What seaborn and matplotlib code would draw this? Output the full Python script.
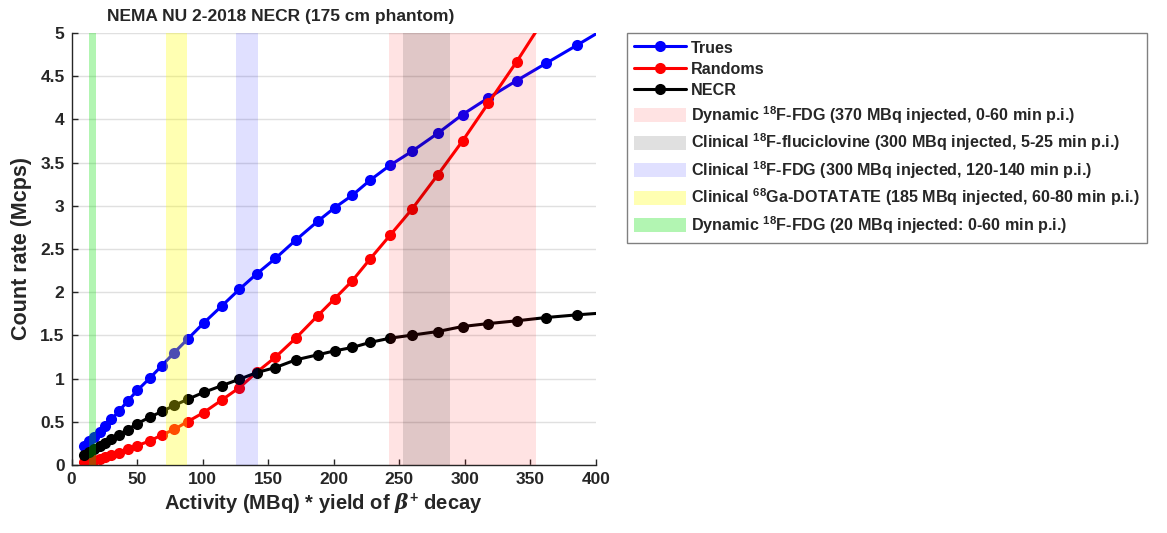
import numpy as np
import pandas as pd
import matplotlib
matplotlib.use("Agg")
import matplotlib.pyplot as plt
import seaborn as sns
from matplotlib.patches import Patch
from matplotlib.lines import Line2D

# ---- data ----
activity = [9.9, 13.7, 17.5, 21.6, 25.9, 30.5, 36.0, 42.8, 50.3, 59.6, 69.0, 78.4,
            88.5, 100.7, 114.7, 128.1, 141.3, 155.5, 171.0, 187.7, 200.7, 214.0,
            228.0, 243.0, 259.6, 279.4, 298.2, 318.0, 339.6, 362.0, 385.6, 410.0]
trues = [0.22, 0.278, 0.328, 0.386, 0.452, 0.53, 0.62, 0.74, 0.865, 1.004, 1.151, 1.302,
         1.456, 1.642, 1.842, 2.035, 2.213, 2.391, 2.603, 2.82, 2.978, 3.12,
         3.30, 3.47, 3.63, 3.84, 4.056, 4.25, 4.45, 4.65, 4.86, 5.08]
randoms = [0.03, 0.045, 0.06, 0.075, 0.095, 0.115, 0.14, 0.18, 0.225, 0.278, 0.348, 0.413,
           0.502, 0.606, 0.753, 0.896, 1.074, 1.248, 1.468, 1.727, 1.925, 2.13,
           2.39, 2.66, 2.96, 3.36, 3.75, 4.19, 4.67, 5.2, 5.8, 6.4]
necr = [0.12, 0.155, 0.19, 0.225, 0.26, 0.30, 0.35, 0.41, 0.48, 0.553, 0.62, 0.69,
        0.76, 0.84, 0.919, 0.993, 1.07, 1.128, 1.217, 1.275, 1.321, 1.36,
        1.42, 1.468, 1.503, 1.545, 1.603, 1.637, 1.669, 1.707, 1.738, 1.765]

series_names = ["Trues", "Randoms", "NECR"]
series_colors = ["#0000FF", "#FF0000", "#000000"]

band_labels = [r"Dynamic $^{\mathbf{18}}$F-FDG (370 MBq injected, 0-60 min p.i.)",
               r"Clinical $^{\mathbf{18}}$F-fluciclovine (300 MBq injected, 5-25 min p.i.)",
               r"Clinical $^{\mathbf{18}}$F-FDG (300 MBq injected, 120-140 min p.i.)",
               r"Clinical $^{\mathbf{68}}$Ga-DOTATATE (185 MBq injected, 60-80 min p.i.)",
               r"Dynamic $^{\mathbf{18}}$F-FDG (20 MBq injected: 0-60 min p.i.)"]
band_start = [241.9, 252.8, 125.2, 71.9, 13.3]
band_end = [354.0, 288.3, 142.5, 88.1, 18.7]
band_colors = ["#FF0000", "#000000", "#0000FF", "#FFFF00", "#00E000"]
band_alpha = [0.11, 0.12, 0.12, 0.30, 0.30]

yticks = [0, 0.5, 1, 1.5, 2, 2.5, 3, 3.5, 4, 4.5, 5]
ytick_labels = ["0", "0.5", "1", "1.5", "2", "2.5", "3", "3.5", "4", "4.5", "5"]
xticks = [0, 50, 100, 150, 200, 250, 300, 350, 400]

# ---- style ----
sns.set_theme(style="white")
plt.rcParams["font.family"] = ["Liberation Sans", "DejaVu Sans"]
plt.rcParams["font.weight"] = "bold"
plt.rcParams["mathtext.fontset"] = "custom"
plt.rcParams["mathtext.rm"] = "Liberation Sans:bold"
plt.rcParams["mathtext.bf"] = "Liberation Sans:bold"
plt.rcParams["mathtext.it"] = "DejaVu Serif:italic"

df = pd.DataFrame({"activity": activity * 3,
                   "rate": trues + randoms + necr,
                   "series": ["Trues"] * len(activity) + ["Randoms"] * len(activity) + ["NECR"] * len(activity)})

fig = plt.figure(figsize=(11.67, 5.33), dpi=100)
ax = fig.add_axes([71.5 / 1167, 68 / 533, (596 - 71.5) / 1167, (465 - 33) / 533])

for name, col in zip(series_names, series_colors):
    sub = df[df["series"] == name]
    sns.lineplot(data=sub, x="activity", y="rate", ax=ax, color=col, marker="o",
                 markersize=8, linewidth=2.2, markeredgewidth=0, zorder=2, legend=False)

for s, e, c, a in zip(band_start, band_end, band_colors, band_alpha):
    ax.axvspan(s, e, facecolor=c, alpha=a, edgecolor="none", zorder=3)

ax.set_xlim(0, 400)
ax.set_ylim(0, 5)
ax.set_yticks(yticks)
ax.set_yticklabels(ytick_labels)
ax.set_xticks(xticks)
ax.yaxis.grid(True, color="#E0E0E0", linewidth=1.0, zorder=0)
ax.xaxis.grid(False)
ax.set_axisbelow(True)
for side in ["top", "right"]:
    ax.spines[side].set_visible(False)
for side in ["left", "bottom"]:
    ax.spines[side].set_color("#262626")
    ax.spines[side].set_linewidth(1.0)
ax.tick_params(axis="both", direction="in", length=4, width=1, colors="#262626",
               labelsize=12.5, bottom=True, left=True, pad=5)
for lab in ax.get_xticklabels() + ax.get_yticklabels():
    lab.set_fontweight("bold")
    lab.set_color("#262626")

fig.text(281 / 1167, 1 - 17 / 533, "NEMA NU 2-2018 NECR (175 cm phantom)", fontsize=12.5,
         fontweight="bold", ha="center", va="center")
ax.set_xlabel("")
fig.text(323 / 1167, 1 - 504 / 533, r"Activity (MBq) * yield of $\mathit{\beta}^{\mathbf{+}}$ decay",
         fontsize=14.5, fontweight="bold", color="#262626", ha="center", va="center")
ax.set_ylabel("Count rate (Mcps)", fontsize=15.5, fontweight="bold", color="#262626", labelpad=6)

handles = [Line2D([0], [0], color=c, marker="o", markersize=8, linewidth=2.2, markeredgewidth=0)
           for c in series_colors]
handles += [Patch(facecolor=c, alpha=a, edgecolor="none") for c, a in zip(band_colors, band_alpha)]
labels = series_names + band_labels
leg = fig.legend(handles, labels, loc="upper left", bbox_to_anchor=(627 / 1167, 1 - 33 / 533),
                 bbox_transform=fig.transFigure, fontsize=11.6, frameon=True, fancybox=False,
                 edgecolor="#808080", framealpha=1, handlelength=3.2, handleheight=0.95,
                 handletextpad=0.3, borderpad=0.45, labelspacing=0.36, borderaxespad=0)
leg.get_frame().set_linewidth(1.0)
for t in leg.get_texts():
    t.set_fontweight("bold")

fig.savefig("out.png", dpi=100)
